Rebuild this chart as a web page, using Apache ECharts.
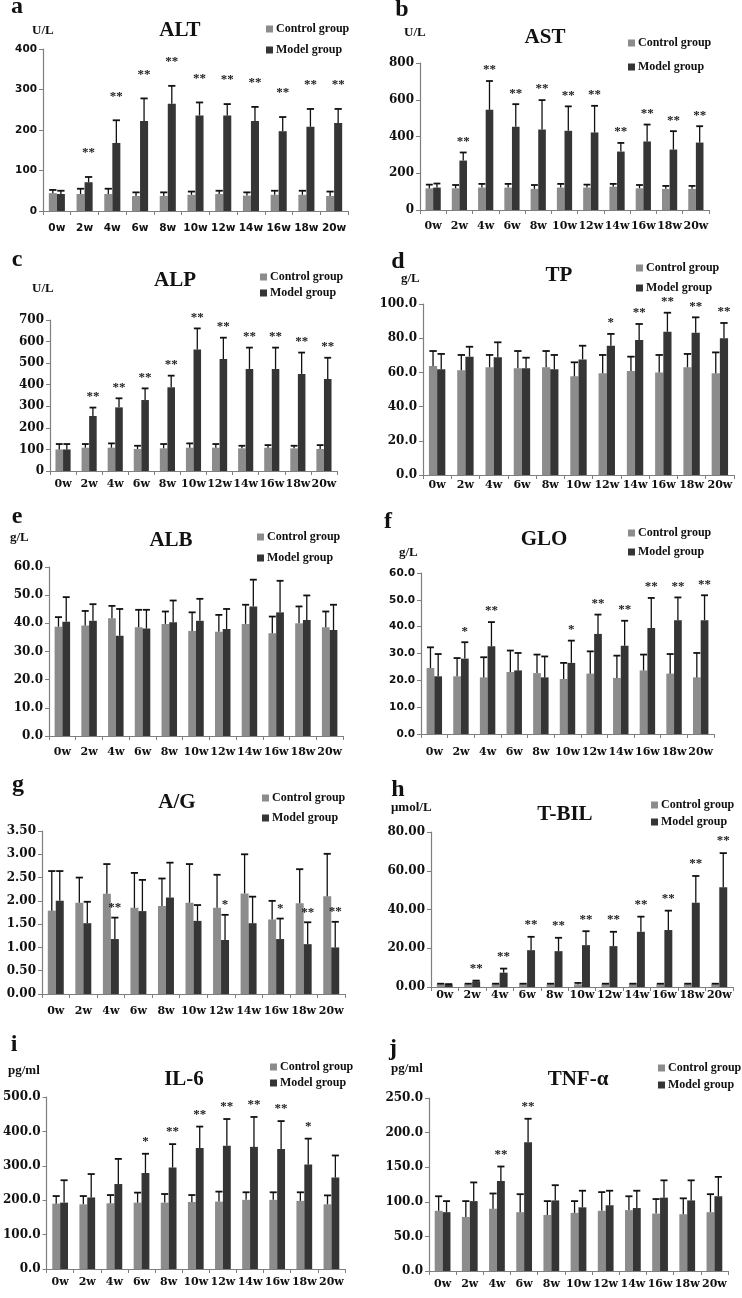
<!DOCTYPE html>
<html lang="en">
<head>
    <meta http-equiv="Content-Type" content="text/html" charset="UTF-8">
    <script type="text/javascript" src="https://cdn.jsdelivr.net/npm/echarts@6/dist/echarts.min.js"></script>
    <style>
        html, body { margin: 0; padding: 0; background: #fff; }
        #chart { width: 742px; height: 1298px; }
    </style>
</head>
<body>
<div id="chart"></div>
<script type="text/javascript">
    var weeks = ['0w', '2w', '4w', '6w', '8w', '10w', '12w', '14w', '16w', '18w', '20w'];
    var groupNames = ['Control group', 'Model group'];

    // a ALT
    var altControl = [44, 42, 42, 37, 37, 40, 42, 38, 40, 40, 37];
    var altControlSd = [8, 13, 13, 9, 9, 8, 8, 8, 10, 10, 11];
    var altModel = [42, 71, 168, 222, 265, 236, 236, 222, 197, 208, 217];
    var altModelSd = [8, 13, 56, 56, 44, 32, 28, 35, 35, 44, 35];
    var altSig = ['', '**', '**', '**', '**', '**', '**', '**', '**', '**', '**'];

    // b AST
    var astControl = [118, 118, 122, 122, 115, 122, 122, 127, 118, 115, 115];
    var astControlSd = [20, 18, 20, 20, 21, 20, 16, 15, 18, 16, 16];
    var astModel = [122, 269, 545, 453, 438, 431, 422, 318, 373, 329, 367];
    var astModelSd = [22, 44, 157, 123, 160, 133, 145, 47, 92, 100, 89];
    var astSig = ['', '**', '**', '**', '**', '**', '**', '**', '**', '**', '**'];

    // c ALP
    var alpControl = [100, 108, 108, 102, 105, 108, 108, 105, 108, 105, 102];
    var alpControlSd = [25, 17, 20, 15, 20, 20, 17, 12, 12, 12, 18];
    var alpModel = [100, 255, 295, 329, 388, 563, 519, 473, 473, 450, 427];
    var alpModelSd = [25, 39, 42, 54, 54, 98, 99, 99, 99, 99, 98];
    var alpSig = ['', '**', '**', '**', '**', '**', '**', '**', '**', '**', '**'];

    // d TP
    var tpControl = [63.7, 61.2, 63, 62.4, 63, 57.7, 59.5, 60.8, 60, 63, 59.5];
    var tpControlSd = [8.8, 9, 7.2, 10.1, 9.5, 8.2, 10.7, 8.4, 10.2, 7.8, 12.2];
    var tpModel = [61.8, 69.2, 68.8, 62.4, 61.8, 67.6, 75.6, 79, 83.8, 83.2, 79.9];
    var tpModelSd = [9, 5.8, 8.8, 6.2, 8.4, 8, 6.9, 9.3, 11.1, 9, 9];
    var tpSig = ['', '', '', '', '', '', '*', '**', '**', '**', '**'];

    // e ALB
    var albControl = [38.8, 39.2, 41.8, 38.6, 39.8, 37.3, 37, 39.8, 36.5, 40, 38.6];
    var albControlSd = [3.4, 5.2, 4.4, 6.2, 4.4, 6.6, 6, 6.8, 5.9, 6, 5.6];
    var albModel = [40.6, 40.9, 35.6, 38.2, 40.4, 40.9, 38, 46, 43.9, 41.2, 37.6];
    var albModelSd = [8.7, 5.9, 9.5, 6.6, 7.7, 7.8, 7.1, 9.5, 11.2, 8.7, 9];
    var albSig = ['', '', '', '', '', '', '', '', '', '', ''];

    // f GLO
    var gloControl = [24.6, 21.5, 21.1, 23.1, 22.7, 20.5, 22.5, 20.9, 23.7, 22.5, 21.1];
    var gloControlSd = [7.7, 6.8, 7.5, 8, 6.9, 6, 8.3, 8.3, 5.9, 7.3, 9.1];
    var gloModel = [21.5, 28.1, 32.7, 23.7, 21.1, 26.5, 37.3, 32.9, 39.5, 42.4, 42.4];
    var gloModelSd = [8.3, 6.1, 9, 6.5, 7.8, 8.3, 7.2, 9.3, 11.2, 8.5, 9.3];
    var gloSig = ['', '*', '**', '', '', '*', '**', '**', '**', '**', '**'];

    // g A/G
    var agControl = [1.79, 1.96, 2.15, 1.85, 1.89, 1.96, 1.85, 2.16, 1.6, 1.95, 2.1];
    var agControlSd = [0.85, 0.54, 0.64, 0.75, 0.59, 0.83, 0.71, 0.84, 0.4, 0.73, 0.91];
    var agModel = [2.0, 1.52, 1.18, 1.78, 2.07, 1.57, 1.16, 1.52, 1.18, 1.07, 1.0];
    var agModelSd = [0.64, 0.46, 0.46, 0.67, 0.75, 0.34, 0.54, 0.57, 0.44, 0.47, 0.55];
    var agSig = ['', '', '**', '', '', '', '*', '', '*', '**', '**'];

    // h T-BIL
    var tbilControl = [1.4, 1.4, 1.4, 1.4, 1.4, 1.4, 1.4, 1.4, 1.4, 1.4, 1.4];
    var tbilControlSd = [0.3, 0.3, 0.3, 0.3, 0.3, 0.7, 0.3, 0.3, 0.3, 0.3, 0.3];
    var tbilModel = [1.2, 2.9, 7.4, 19, 18.5, 21.6, 21.1, 28.5, 29.4, 43.5, 51.5];
    var tbilModelSd = [0.3, 0.4, 2.1, 6.9, 6.9, 7.2, 7.4, 7.8, 10, 13.8, 17.6];
    var tbilSig = ['', '**', '**', '**', '**', '**', '**', '**', '**', '**', '**'];

    // i IL-6
    var il6Control = [190, 188, 191, 193, 193, 195, 196, 201, 201, 198, 188];
    var il6ControlSd = [22, 24, 24, 29, 25, 20, 29, 22, 22, 25, 26];
    var il6Model = [193, 208, 247, 279, 295, 352, 358, 355, 349, 304, 266];
    var il6ModelSd = [65, 68, 73, 56, 68, 62, 78, 87, 81, 75, 64];
    var il6Sig = ['', '', '', '*', '**', '**', '**', '**', '**', '*', ''];

    // j TNF-α
    var tnfControl = [87, 78, 90, 85, 81, 84, 87, 88, 83, 82, 85];
    var tnfControlSd = [21, 23, 22, 26, 20, 17, 27, 20, 21, 23, 26];
    var tnfModel = [85, 101, 130, 186, 102, 92, 95, 91, 106, 102, 108];
    var tnfModelSd = [16, 27, 21, 34, 22, 24, 21, 25, 25, 29, 28];
    var tnfSig = ['', '', '**', '**', '', '', '', '', '', '', ''];

    var panels = [
        {letter: 'a', title: 'ALT', unit: 'U/L', max: 400, step: 100, digits: 0,
            control: altControl, controlSd: altControlSd, model: altModel, modelSd: altModelSd, sig: altSig},
        {letter: 'b', title: 'AST', unit: 'U/L', max: 800, step: 200, digits: 0,
            control: astControl, controlSd: astControlSd, model: astModel, modelSd: astModelSd, sig: astSig},
        {letter: 'c', title: 'ALP', unit: 'U/L', max: 700, step: 100, digits: 0,
            control: alpControl, controlSd: alpControlSd, model: alpModel, modelSd: alpModelSd, sig: alpSig},
        {letter: 'd', title: 'TP', unit: 'g/L', max: 100, step: 20, digits: 1,
            control: tpControl, controlSd: tpControlSd, model: tpModel, modelSd: tpModelSd, sig: tpSig},
        {letter: 'e', title: 'ALB', unit: 'g/L', max: 60, step: 10, digits: 1,
            control: albControl, controlSd: albControlSd, model: albModel, modelSd: albModelSd, sig: albSig},
        {letter: 'f', title: 'GLO', unit: 'g/L', max: 60, step: 10, digits: 1,
            control: gloControl, controlSd: gloControlSd, model: gloModel, modelSd: gloModelSd, sig: gloSig},
        {letter: 'g', title: 'A/G', unit: '', max: 3.5, step: 0.5, digits: 2,
            control: agControl, controlSd: agControlSd, model: agModel, modelSd: agModelSd, sig: agSig},
        {letter: 'h', title: 'T-BIL', unit: 'μmol/L', max: 80, step: 20, digits: 2,
            control: tbilControl, controlSd: tbilControlSd, model: tbilModel, modelSd: tbilModelSd, sig: tbilSig},
        {letter: 'i', title: 'IL-6', unit: 'pg/ml', max: 500, step: 100, digits: 1,
            control: il6Control, controlSd: il6ControlSd, model: il6Model, modelSd: il6ModelSd, sig: il6Sig},
        {letter: 'j', title: 'TNF-α', unit: 'pg/ml', max: 250, step: 50, digits: 1,
            control: tnfControl, controlSd: tnfControlSd, model: tnfModel, modelSd: tnfModelSd, sig: tnfSig}
    ];

    // where each panel sits on the page (px): grid box, text anchors (x, baseline), legend
    var layout = [
        {grid: [43, 49, 305, 162], letter: [17, 15], title: [180, 38], unit: [32, 35], legend: [266, 22, 7], xMargin: 12, starGap: 24, sansY: true, sansX: true},
        {grid: [420, 63, 289, 147], letter: [402, 18], title: [545, 45], unit: [404, 37], legend: [628, 36, 10], xMargin: 11, starGap: 11},
        {grid: [50, 320, 287, 151], letter: [17, 268], title: [175, 288], unit: [32, 293], legend: [260, 270, 2], xMargin: 8, starGap: 11},
        {grid: [423, 304, 311, 171], letter: [398, 270], title: [559, 283], unit: [401, 283], legend: [636, 261, 6], xMargin: 5, starGap: 11},
        {grid: [49, 567, 294, 169], letter: [17, 525], title: [171, 548], unit: [10, 542], legend: [257, 530, 7], xMargin: 11, starGap: 11},
        {grid: [421, 573, 293, 161], letter: [388, 530], title: [544, 547], unit: [399, 557], legend: [628, 526, 5], xMargin: 13, starGap: 11, sansY: true},
        {grid: [42, 831, 303, 163], letter: [18, 793], title: [177, 810], unit: [0, 0], legend: [262, 791, 6], xMargin: 12, starGap: 10},
        {grid: [431, 832, 302, 155], letter: [398, 798], title: [565, 822], unit: [391, 812], legend: [651, 798, 3], xMargin: 3, starGap: 12},
        {grid: [43, 1097, 302, 172], letter: [14, 1053], title: [184, 1087], unit: [8, 1075], legend: [270, 1060, 2], xMargin: 8, starGap: 12},
        {grid: [429, 1098, 299, 173], letter: [393, 1057], title: [578, 1087], unit: [391, 1073], legend: [658, 1061, 3], xMargin: 8, starGap: 12}
    ];

    var controlColor = '#8c8c8c';
    var modelColor = '#353535';
    var axisColor = '#7f7f7f';
    var serif = '"Liberation Serif", "Times New Roman", serif';
    var wideSerif = '"DejaVu Serif", serif';
    var wideSans = '"DejaVu Sans", sans-serif';
    var catGap = 0.42;

    // error bar (upper whisker only) + significance stars above it
    function errorRender(means, sds, sigs, side, starGap) {
        return function (params, api) {
            var i = params.dataIndex;
            var top = api.coord([i, means[i] + sds[i]]);
            var base = api.coord([i, means[i]]);
            var band = api.size([1, 0])[0];
            var barW = band * (1 - catGap) / 2;
            var x = top[0] + side * barW / 2;
            var capHalf = barW * 0.45;
            var kids = [
                {type: 'line', shape: {x1: x, y1: base[1], x2: x, y2: top[1]}, style: {stroke: '#111', lineWidth: 1.3}},
                {type: 'line', shape: {x1: x - capHalf, y1: top[1], x2: x + capHalf, y2: top[1]}, style: {stroke: '#111', lineWidth: 1.8}}
            ];
            if (sigs && sigs[i]) {
                kids.push({
                    type: 'text',
                    style: {
                        text: sigs[i], x: x, y: top[1] - starGap,
                        align: 'center', verticalAlign: 'middle',
                        textAlign: 'center', textVerticalAlign: 'middle',
                        font: 'bold 13px ' + serif, fill: '#222'
                    }
                });
            }
            return {type: 'group', children: kids};
        };
    }

    function textEl(str, x, baseline, size, align) {
        return {
            type: 'text', x: x, y: baseline - size * 0.34, silent: true,
            style: {
                text: str, font: 'bold ' + size + 'px ' + serif, fill: '#111',
                align: align, verticalAlign: 'middle', textAlign: align, textVerticalAlign: 'middle'
            }
        };
    }

    var grids = [], xAxes = [], yAxes = [], series = [], legends = [], graphics = [];

    panels.forEach(function (p, k) {
        var L = layout[k];
        grids.push({left: L.grid[0], top: L.grid[1], width: L.grid[2], height: L.grid[3], containLabel: false});

        xAxes.push({
            type: 'category', gridIndex: k, data: weeks, boundaryGap: true,
            axisLine: {lineStyle: {color: axisColor, width: 1.2}},
            axisTick: {show: true, length: 4, lineStyle: {color: axisColor}},
            axisLabel: {
                margin: L.xMargin, color: '#111', fontWeight: 'bold',
                fontFamily: L.sansX ? wideSans : wideSerif, fontSize: L.sansX ? 10.5 : 11, interval: 0
            }
        });

        yAxes.push({
            type: 'value', gridIndex: k, min: 0, max: p.max, interval: p.step,
            splitLine: {show: false},
            axisLine: {show: true, lineStyle: {color: axisColor, width: 1.2}},
            axisTick: {show: true, length: 4, lineStyle: {color: axisColor}},
            axisLabel: {
                margin: 6, color: '#111', fontWeight: 'bold',
                fontFamily: L.sansY ? wideSans : wideSerif, fontSize: L.sansY ? 10.5 : 12,
                formatter: (function (d) { return function (v) { return v.toFixed(d); }; })(p.digits)
            }
        });

        series.push({
            name: groupNames[0], type: 'bar', xAxisIndex: k, yAxisIndex: k,
            data: p.control, barGap: '0%', barCategoryGap: (catGap * 100) + '%',
            itemStyle: {color: controlColor}, animation: false
        });
        series.push({
            name: groupNames[1], type: 'bar', xAxisIndex: k, yAxisIndex: k,
            data: p.model, barGap: '0%', barCategoryGap: (catGap * 100) + '%',
            itemStyle: {color: modelColor}, animation: false
        });
        series.push({
            type: 'custom', xAxisIndex: k, yAxisIndex: k, z: 5, animation: false,
            renderItem: errorRender(p.control, p.controlSd, null, -1, L.starGap),
            data: p.control.map(function (v, i) { return [i, v + p.controlSd[i]]; })
        });
        series.push({
            type: 'custom', xAxisIndex: k, yAxisIndex: k, z: 5, animation: false,
            renderItem: errorRender(p.model, p.modelSd, p.sig, 1, L.starGap),
            data: p.model.map(function (v, i) { return [i, v + p.modelSd[i]]; })
        });

        legends.push({
            data: groupNames, orient: 'vertical', left: L.legend[0], top: L.legend[1],
            itemGap: L.legend[2], itemWidth: 7, itemHeight: 7, icon: 'rect', selectedMode: false,
            padding: 0,
            textStyle: {fontFamily: serif, fontWeight: 'bold', fontSize: 12, color: '#111', lineHeight: 14, padding: [0, 0, 0, -2]}
        });

        graphics.push(textEl(p.letter, L.letter[0], L.letter[1], 24, 'center'));
        graphics.push(textEl(p.title, L.title[0], L.title[1], 21, 'center'));
        if (p.unit) graphics.push(textEl(p.unit, L.unit[0], L.unit[1], 13, 'left'));
    });

    var chart = echarts.init(document.getElementById('chart'));
    chart.setOption({
        backgroundColor: '#fff',
        animation: false,
        grid: grids,
        xAxis: xAxes,
        yAxis: yAxes,
        legend: legends,
        series: series,
        graphic: graphics
    });
</script>
</body>
</html>
